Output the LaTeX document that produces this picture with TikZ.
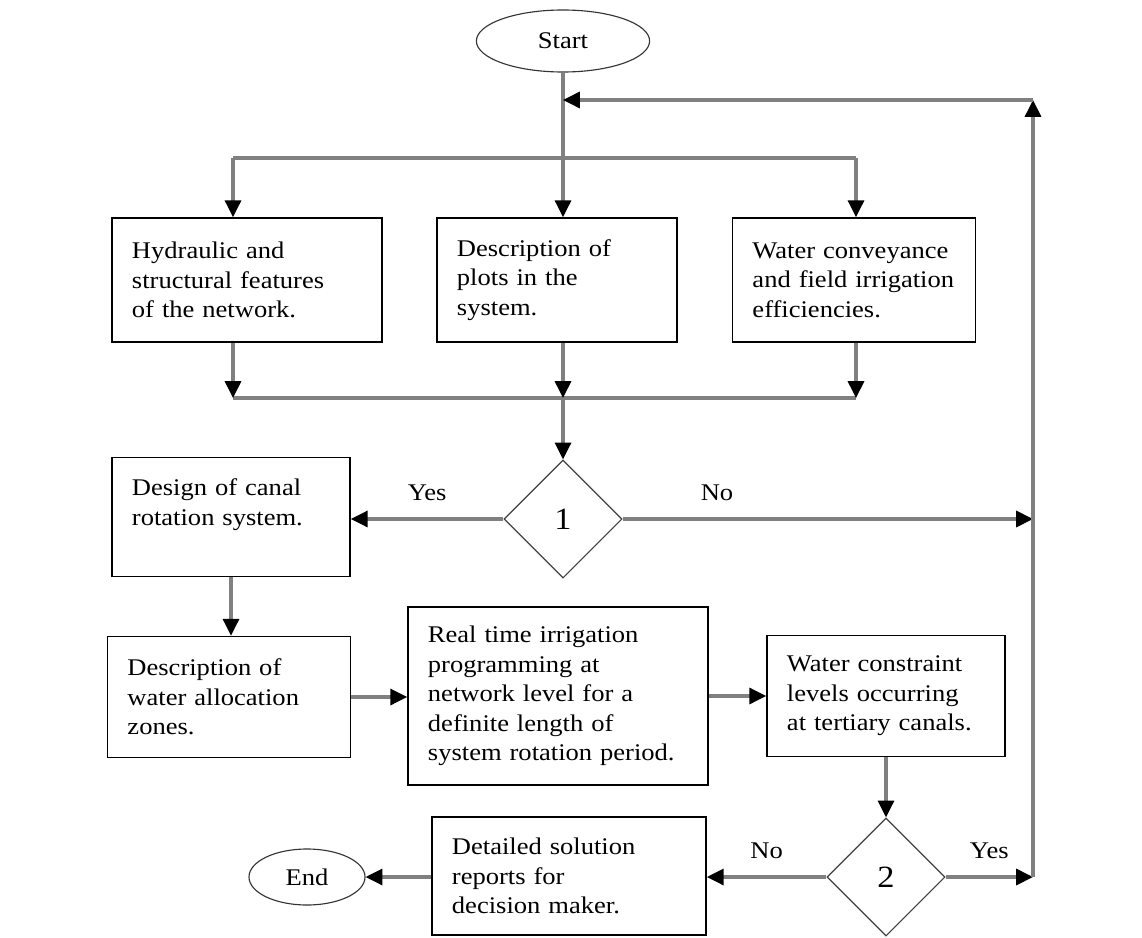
\documentclass[tikz,border=0pt]{standalone}
\usepackage{fontspec}
\setmainfont{Liberation Serif}[FakeStretch=1.11]
\usetikzlibrary{shapes.geometric,arrows.meta}

\begin{document}
\begin{tikzpicture}[x=0.025cm,y=-0.025cm,
    font=\fontsize{17}{21}\selectfont,
    procbox/.style={draw=black,line width=1.1pt,align=left,inner xsep=0.5cm,inner ysep=0pt},
    decision/.style={diamond,draw=black!75,line width=0.8pt,aspect=1,inner sep=0pt,minimum size=2.95cm,font=\fontsize{22}{24}\selectfont},
    terminal/.style={ellipse,draw=black!80,line width=0.8pt,inner sep=0pt},
    link/.style={draw=black!50,line width=2.2pt},
    flow/.style={link,-{Triangle[length=0.42cm,width=0.4cm,color=black]}}]
    \useasboundingbox (0,0) rectangle (1142,938);
    % start and the three inputs
    \node[terminal,minimum width=4.33cm,minimum height=1.55cm] (start) at (563,41) {Start};
    \node[procbox,text width=5.75cm,minimum height=3.1cm] (hyd) at (247,280) {Hydraulic and\\structural features\\of the network.};
    \node[procbox,text width=5.0cm,minimum height=3.1cm] (plots) at (557,280) {Description of\\plots in the\\system.};
    \node[procbox,text width=5.075cm,minimum height=3.1cm] (eff) at (854,280) {Water conveyance\\and field irrigation\\efficiencies.};
    % decisions
    \node[decision] (dec1) at (563,519) {1};
    \node[decision] (dec2) at (886,877) {2};
    % rotation design branch
    \node[procbox,text width=4.95cm,minimum height=2.975cm] (design) at (231,517) {Design of canal\\rotation system.\\~};
    \node[procbox,text width=5.075cm,minimum height=3.025cm] (zones) at (229,697) {Description of\\water allocation\\zones.};
    \node[procbox,text width=6.5cm,minimum height=4.45cm] (rtp) at (558,696) {Real time irrigation\\programming at\\network level for a\\definite length of\\system rotation period.};
    \node[procbox,text width=4.95cm,minimum height=3.025cm] (cons) at (886,696) {Water constraint\\levels occurring\\at tertiary canals.};
    \node[procbox,text width=5.85cm,minimum height=2.95cm] (report) at (569,876) {Detailed solution\\reports for\\decision maker.};
    \node[terminal,minimum width=2.9cm,minimum height=1.4cm] (end) at (307,877) {End};
    % junctions
    \coordinate (split) at (563,158);
    \coordinate (merge) at (563,398);
    \coordinate (loop) at (1033,100);

    \draw[link] (start) -- (split);
    \draw[link] (233,158) -- (856,158);
    \draw[link] (233,398) -- (856,398);
    \foreach \b/\x in {hyd/233,plots/563,eff/856} {
      \draw[flow] (\x,158) -- (\x,158 |- \b.north);
      \draw[flow] (\x,158 |- \b.south) -- (\x,398);
    }
    \draw[flow] (merge) -- (dec1.north);
    \draw[flow] (dec1.west) -- (dec1.west -| design.east) node[midway,above=0.3cm] {Yes};
    \draw[flow] (dec1.east) -- (dec1.east -| loop) node[pos=0.23,above=0.3cm] {No};
    \draw[flow] (design.south) -- (design.south |- zones.north);
    \draw[flow] (zones.east) -- (zones.east -| rtp.west);
    \draw[flow] (cons.west -| rtp.east) -- (cons.west);
    \draw[flow] (cons.south) -- (dec2.north);
    \draw[flow] (dec2.west) -- (dec2.west -| report.east) node[midway,above=0.3cm] {No};
    \draw[flow] (dec2.east) -- (dec2.east -| loop) node[midway,above=0.3cm] {Yes};
    \draw[flow] (dec2.east -| loop) -- (loop);
    \draw[flow] (loop) -- (loop -| start);
    \draw[flow] (dec2.west -| report.west) -- (dec2.west -| end.east);
\end{tikzpicture}
\end{document}
